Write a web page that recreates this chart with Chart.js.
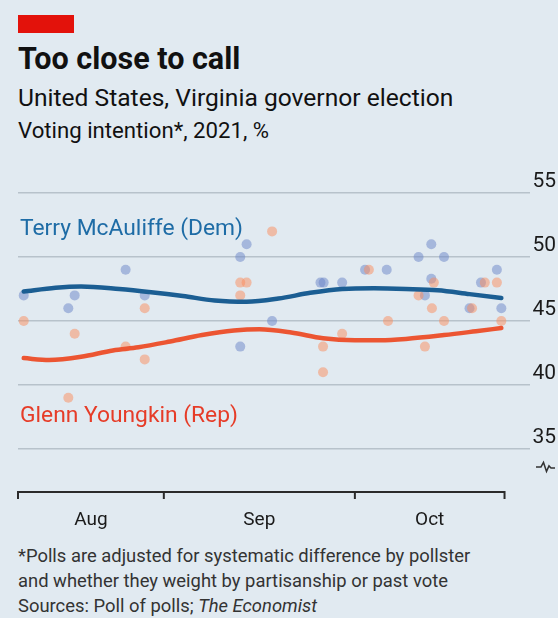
<!DOCTYPE html>
<html>
<head>
<meta charset="utf-8">
<title>Too close to call</title>
<script src="https://cdn.jsdelivr.net/npm/chart.js@4.4.1/dist/chart.umd.min.js"></script>
<style>
  html, body { margin: 0; padding: 0; background: #e1eaf1; }
  #wrap { position: relative; width: 558px; height: 618px; overflow: hidden; background: #e1eaf1;
          font-family: Roboto, "Noto Sans", sans-serif; color: #111; }
  .bar { position: absolute; left: 18px; top: 15px; width: 56px; height: 18px; background: #e3120b; }
  .t { position: absolute; left: 18px; white-space: nowrap; line-height: 1; }
  #title { top: 43.5px; font-size: 30.5px; font-weight: 700; }
  #sub { top: 86.3px; font-size: 24.6px; }
  #sub2 { top: 119.3px; font-size: 22.2px; }
  #note { position: absolute; left: 18px; top: 542.8px; font-size: 18.4px; line-height: 25.3px; color: #333; white-space: nowrap; }
  #chart { position: absolute; left: 0; top: 160px; }
</style>
</head>
<body>
<div id="wrap">
  <div class="bar"></div>
  <div class="t" id="title">Too close to call</div>
  <div class="t" id="sub">United States, Virginia governor election</div>
  <div class="t" id="sub2">Voting intention*, 2021, %</div>
  <canvas id="chart" width="558" height="370"></canvas>
  <div id="note">*Polls are adjusted for systematic difference by pollster<br>and whether they weight by partisanship or past vote<br>Sources: Poll of polls; <i>The Economist</i></div>
</div>
<script>
// Days are counted from July 31st 2021 (Aug 1st = 1, Sep 1st = 32, Oct 1st = 62)
const monthTicks  = [9.1, 32, 62, 85.5];
const monthLabels = ['Aug', 'Sep', 'Oct'];
const yTicks      = [35, 40, 45, 50, 55];

// Individual polls, adjusted
const demPollDays   = [10, 17, 18, 26, 29, 44, 44, 45, 49, 56.6, 57.1, 60, 63.6, 67, 72, 73, 74, 74, 76, 80, 81.8, 84.3, 85];
const demPollValues = [47, 46, 47, 49, 47, 50, 43, 51, 45, 48, 48, 48, 49, 49, 50, 47, 48.3, 51, 50, 46, 48, 49, 46];
const repPollDays   = [10, 17, 18, 26, 29, 29, 44, 44, 45, 49, 57, 57, 60, 64.2, 67.2, 72, 73, 74.1, 74.4, 76, 80.4, 82.4, 84.3, 85];
const repPollValues = [45, 39, 44, 43, 46, 42, 48, 47, 48, 52, 43, 41, 44, 49, 45, 47, 43, 46, 48, 45, 46, 48, 48, 45];

// Poll-of-polls trend
const demTrendDays = [10, 15, 19, 25, 30, 35, 40, 45, 50, 55, 60, 65, 70, 75, 80, 85];
const demTrend     = [47.3, 47.6, 47.7, 47.5, 47.25, 46.95, 46.6, 46.5, 46.75, 47.2, 47.5, 47.55, 47.5, 47.4, 47.1, 46.8];
const repTrendDays = [10, 14, 19, 24, 28, 33, 38, 43, 47, 52, 57, 62, 66, 70, 76, 81, 85];
const repTrend     = [42.1, 41.95, 42.2, 42.7, 42.95, 43.4, 43.9, 44.25, 44.35, 44.1, 43.65, 43.5, 43.5, 43.6, 43.9, 44.2, 44.45];

const seriesNames = ['Terry McAuliffe (Dem)', 'Glenn Youngkin (Rep)'];

const pts = (xs, ys) => xs.map((d, i) => ({ x: d, y: ys[i] }));

const FONT = 'Roboto, "Noto Sans", sans-serif';

// Month axis with tick marks and the broken-axis mark on the right
const monthAxis = {
  id: 'monthAxis',
  afterDraw(chart) {
    const { ctx, chartArea, scales: { x, y } } = chart;
    const yb = chartArea.bottom;
    ctx.save();
    ctx.strokeStyle = '#2b2b2b';
    ctx.lineWidth = 2;
    ctx.lineCap = 'butt';
    const x0 = x.getPixelForValue(monthTicks[0]);
    const x1 = x.getPixelForValue(monthTicks[monthTicks.length - 1]);
    ctx.beginPath(); ctx.moveTo(x0, yb); ctx.lineTo(x1, yb); ctx.stroke();
    monthTicks.forEach(d => {
      const px = x.getPixelForValue(d);
      ctx.beginPath(); ctx.moveTo(px, yb - 1); ctx.lineTo(px, yb + 7); ctx.stroke();
    });
    ctx.fillStyle = '#1a1a1a';
    ctx.font = '19px ' + FONT;
    ctx.textAlign = 'center';
    ctx.textBaseline = 'alphabetic';
    monthLabels.forEach((m, i) => {
      const px = (x.getPixelForValue(monthTicks[i]) + x.getPixelForValue(monthTicks[i + 1])) / 2;
      ctx.fillText(m, px, yb + 33);
    });
    // break mark
    const bx = chartArea.right + 6;
    const by = y.getPixelForValue(33.6);
    ctx.lineWidth = 1.5;
    ctx.strokeStyle = '#333';
    ctx.beginPath();
    ctx.moveTo(bx, by);
    ctx.lineTo(bx + 5, by);
    ctx.lineTo(bx + 7.5, by - 4.5);
    ctx.lineTo(bx + 10.5, by + 4.5);
    ctx.lineTo(bx + 13, by - 1);
    ctx.lineTo(bx + 15, by + 1);
    ctx.lineTo(bx + 19, by + 1);
    ctx.stroke();
    ctx.restore();
  }
};

// Candidate names placed inside the plot
const seriesLabels = {
  id: 'seriesLabels',
  afterDraw(chart) {
    const { ctx, chartArea, scales: { y } } = chart;
    ctx.save();
    ctx.font = '22.8px ' + FONT;
    ctx.textAlign = 'left';
    ctx.textBaseline = 'alphabetic';
    ctx.fillStyle = '#1e6ca6';
    ctx.fillText(seriesNames[0], chartArea.left + 2, y.getPixelForValue(51.72));
    ctx.fillStyle = '#e63c28';
    ctx.fillText(seriesNames[1], chartArea.left + 2, y.getPixelForValue(37.13));
    ctx.restore();
  }
};

new Chart(document.getElementById('chart'), {
  data: {
    datasets: [
      {
        type: 'line', label: 'McAuliffe trend', data: pts(demTrendDays, demTrend),
        borderColor: '#1b5e93', borderWidth: 4.5, pointRadius: 0,
        cubicInterpolationMode: 'monotone', borderCapStyle: 'round', order: 0
      },
      {
        type: 'line', label: 'Youngkin trend', data: pts(repTrendDays, repTrend),
        borderColor: '#ec5532', borderWidth: 4.5, pointRadius: 0,
        cubicInterpolationMode: 'monotone', borderCapStyle: 'round', order: 0
      },
      {
        type: 'scatter', label: 'McAuliffe polls', data: pts(demPollDays, demPollValues),
        backgroundColor: 'rgba(105,132,200,0.5)', borderWidth: 0, pointRadius: 5, order: 2
      },
      {
        type: 'scatter', label: 'Youngkin polls', data: pts(repPollDays, repPollValues),
        backgroundColor: 'rgba(252,140,92,0.5)', borderWidth: 0, pointRadius: 5, order: 1
      }
    ]
  },
  options: {
    responsive: false,
    animation: false,
    devicePixelRatio: 1,
    layout: { padding: { top: 33, bottom: 38, left: 18, right: 2 } },
    plugins: { legend: { display: false }, tooltip: { enabled: false } },
    scales: {
      x: { type: 'linear', display: false, min: 9.1, max: 89.5 },
      y: {
        type: 'linear', position: 'right', min: 31.64, max: 55,
        afterBuildTicks: s => { s.ticks = yTicks.map(v => ({ value: v })); },
        afterFit: s => { s.width = 26; },
        border: { display: false },
        grid: { color: 'rgba(150,160,172,0.55)', lineWidth: 1.5, drawTicks: false },
        ticks: { padding: 3, crossAlign: 'far', labelOffset: -11, color: '#1a1a1a',
                 font: { family: FONT, size: 21 } }
      }
    }
  },
  plugins: [monthAxis, seriesLabels]
});
</script>
</body>
</html>
